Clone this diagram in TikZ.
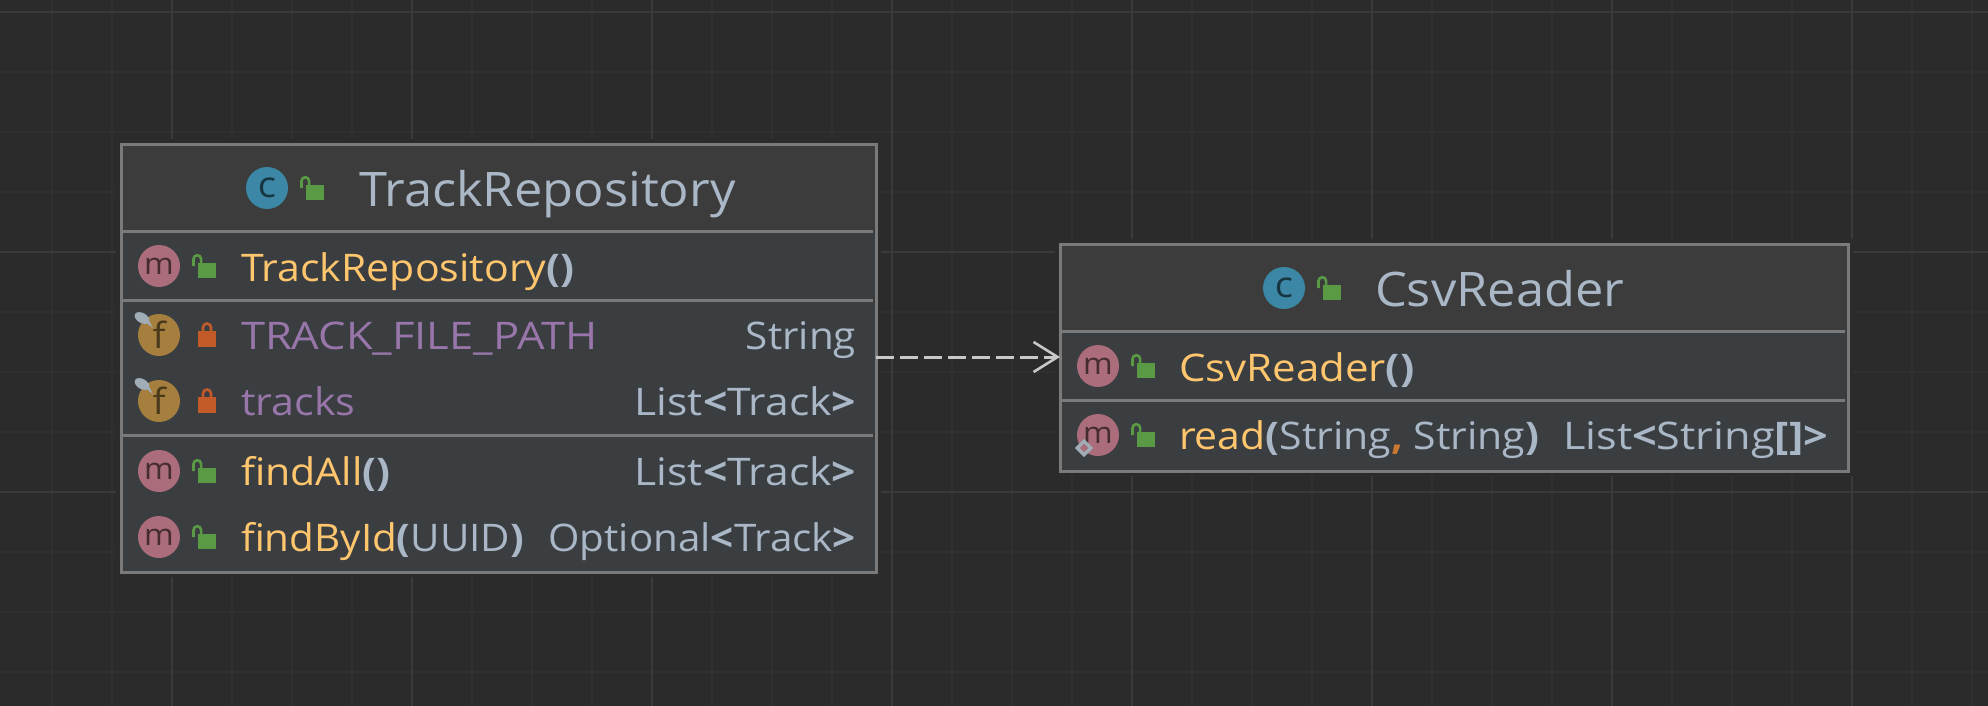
\documentclass[tikz,border=0pt]{standalone}
\usepackage{graphicx}
\usepackage{fontspec}
\usetikzlibrary{arrows.meta}
\setmainfont[FakeStretch=1.063]{Open Sans}
\definecolor{canvasbg}{HTML}{2B2B2B}
\definecolor{gridminor}{HTML}{303030}
\definecolor{gridmajor}{HTML}{3A3A3A}
\definecolor{headbg}{HTML}{3C3C3C}
\definecolor{bodybg}{HTML}{3B3E41}
\definecolor{edge}{HTML}{7A7A7A}
\definecolor{txtgray}{HTML}{A9B7C6}
\definecolor{mthcol}{HTML}{FFC66D}
\definecolor{fldcol}{HTML}{9876AA}
\definecolor{commacol}{HTML}{CC7832}
\definecolor{micon}{HTML}{AB6D7B}
\definecolor{ficon}{HTML}{A67F3F}
\definecolor{cicon}{HTML}{3D87A6}
\definecolor{greenlock}{HTML}{5A9A45}
\definecolor{redlock}{HTML}{C25A2A}
\definecolor{pincol}{HTML}{A0ADB6}
\definecolor{depcol}{HTML}{C8C8C8}
\newcommand{\pb}[1]{\textbf{\textcolor{txtgray}{#1}}}
\newcommand{\gt}[1]{\textcolor{txtgray}{#1}}
\newcommand{\xfit}[2]{\scalebox{#1}[1]{#2}}
\tikzset{
  x=1pt,y=-1pt,
  umlbox/.style={draw=edge,line width=3pt,fill=bodybg,inner sep=0,outer sep=0},
  divider/.style={edge,line width=3pt},
  rowtext/.style={anchor=base west,inner sep=0,outer sep=0,font=\fontsize{38}{40}\selectfont},
  typetext/.style={anchor=base east,inner sep=0,outer sep=0,text=txtgray,font=\fontsize{38}{40}\selectfont},
  titletext/.style={anchor=base west,inner sep=0,outer sep=0,text=txtgray,font=\fontsize{47.6}{50}\selectfont},
  iconbase/.style={circle,inner sep=0,outer sep=0,minimum size=42pt},
  mbadge/.style={iconbase,fill=micon,text=micon!40!black,font=\fontsize{30}{30}\selectfont},
  fbadge/.style={iconbase,fill=ficon,text=ficon!45!black,font=\fontsize{36}{36}\selectfont},
  cbadge/.style={iconbase,fill=cicon,text=cicon!40!black,font=\fontsize{36}{36}\selectfont},
  openlock/.pic={
    \fill[greenlock] (0,0) rectangle (18,15);
    \draw[greenlock,line width=2.6pt] (-4.5,3) -- (-4.5,-4) arc[start angle=180,end angle=360,radius=3.8] -- (3.1,0);
  },
  closedlock/.pic={
    \fill[redlock] (0,0) rectangle (18,16);
    \draw[redlock,line width=2.6pt] (5,0) -- (5,-3.5) arc[start angle=180,end angle=360,radius=4] -- (13,0);
  },
  pin/.pic={
    \fill[pincol,rotate=-30] (0,0) ellipse[x radius=8,y radius=5];
    \fill[pincol] (2,3) -- (11,10) -- (6,1) -- cycle;
  },
  deparrow/.style={depcol,line width=3pt,dash pattern=on 18pt off 6pt,-{Straight Barb[length=24pt,width=30pt,line width=2.6pt]}},
}
\begin{document}
\begin{tikzpicture}
\useasboundingbox (0,0) rectangle (1988,706);
\fill[canvasbg] (0,0) rectangle (1988,706);
% grid
\foreach \gx in {52,112,232,292,352,472,532,592,712,772,832,952,1012,1072,1192,1252,1312,1432,1492,1552,1672,1732,1792,1912,1972}
  \draw[gridminor,line width=1.6pt] (\gx,0) -- (\gx,706);
\foreach \gy in {72,132,192,312,372,432,552,612,672}
  \draw[gridminor,line width=1.6pt] (0,\gy) -- (1988,\gy);
\foreach \gx in {172,412,652,892,1132,1372,1612,1852}
  \draw[gridmajor,line width=2pt] (\gx,0) -- (\gx,706);
\foreach \gy in {12,252,492}
  \draw[gridmajor,line width=2pt] (0,\gy) -- (1988,\gy);
% halo around boxes
\fill[canvasbg] (116,139) rectangle (881,577);
\fill[canvasbg] (1055,239) rectangle (1853,476);
% TrackRepository box
\node[umlbox,minimum width=755pt,minimum height=428pt] (repo) at (498.5,358) {};
\fill[headbg] (123,146) rectangle (874.5,231);
\draw[divider] (123,231) -- (873,231);
\draw[divider] (123,300) -- (873,300);
\draw[divider] (123,435) -- (873,435);
\node[cbadge] (repoC) at (267,188) {c};
\pic at (306,185) {openlock};
\node[titletext] (repoTitle) at (359,206) {TrackRepository};
\node[mbadge] (m1) at (159,266) {m};
\pic at (198,263) {openlock};
\node[rowtext] (ctor) at (241,281) {\xfit{1.016}{\textcolor{mthcol}{TrackRepository}\pb{()}}};
\node[fbadge] (f1) at (159,335) {f};
\pic at (142,318) {pin};
\pic at (198,331) {closedlock};
\node[rowtext,text=fldcol] (pathF) at (241,349) {\xfit{1.077}{TRACK\_FILE\_PATH}};
\node[typetext] (pathT) at (856,349) {String};
\node[fbadge] (f2) at (159,401) {f};
\pic at (142,384) {pin};
\pic at (198,397) {closedlock};
\node[rowtext,text=fldcol] (tracksF) at (241,415) {\xfit{1.02}{tracks}};
\node[typetext] (tracksT) at (856,415) {\xfit{1.055}{List\textbf{<}Track\textbf{>}}};
\node[mbadge] (m2) at (159,471) {m};
\pic at (198,468) {openlock};
\node[rowtext] (findAll) at (241,485) {\xfit{1.017}{\textcolor{mthcol}{findAll}\pb{()}}};
\node[typetext] (findAllT) at (856,485) {\xfit{1.055}{List\textbf{<}Track\textbf{>}}};
\node[mbadge] (m3) at (159,537) {m};
\pic at (198,534) {openlock};
\node[rowtext] (findById) at (241,551) {\textcolor{mthcol}{findById}\pb{(}\gt{UUID}\pb{)}};
\node[typetext] (findByIdT) at (856,551) {Optional\textbf{<}Track\textbf{>}};
% CsvReader box
\node[umlbox,minimum width=788pt,minimum height=227pt] (csv) at (1454,357.5) {};
\fill[headbg] (1062,246) rectangle (1846.5,331);
\draw[divider] (1062,331) -- (1845,331);
\draw[divider] (1062,400) -- (1845,400);
\node[cbadge] (csvC) at (1284,288) {c};
\pic at (1323,285) {openlock};
\node[titletext] (csvTitle) at (1375,306) {CsvReader};
\node[mbadge] (m4) at (1098,366) {m};
\pic at (1137,363) {openlock};
\node[rowtext] (csvCtor) at (1179,381) {\xfit{1.04}{\textcolor{mthcol}{CsvReader}\pb{()}}};
\node[mbadge] (m5) at (1098,435) {m};
\fill[pincol,rotate around={45:(1084,448)}] (1077.5,441.5) rectangle (1090.5,454.5);
\fill[micon,rotate around={45:(1084,448)}] (1081,445) rectangle (1087,451);
\pic at (1137,432) {openlock};
\node[rowtext] (readM) at (1179,449) {\xfit{1.014}{\textcolor{mthcol}{read}\pb{(}\gt{String}\textbf{\textcolor{commacol}{,}} \gt{String}\pb{)}}};
\node[typetext] (readT) at (1828,449) {\xfit{1.07}{List\textbf{<}String\textbf{[]>}}};
% dependency
\coordinate (deplevel) at (0,357);
\draw[deparrow] (repo.east |- deplevel) -- (csv.west |- deplevel);
\end{tikzpicture}
\end{document}
